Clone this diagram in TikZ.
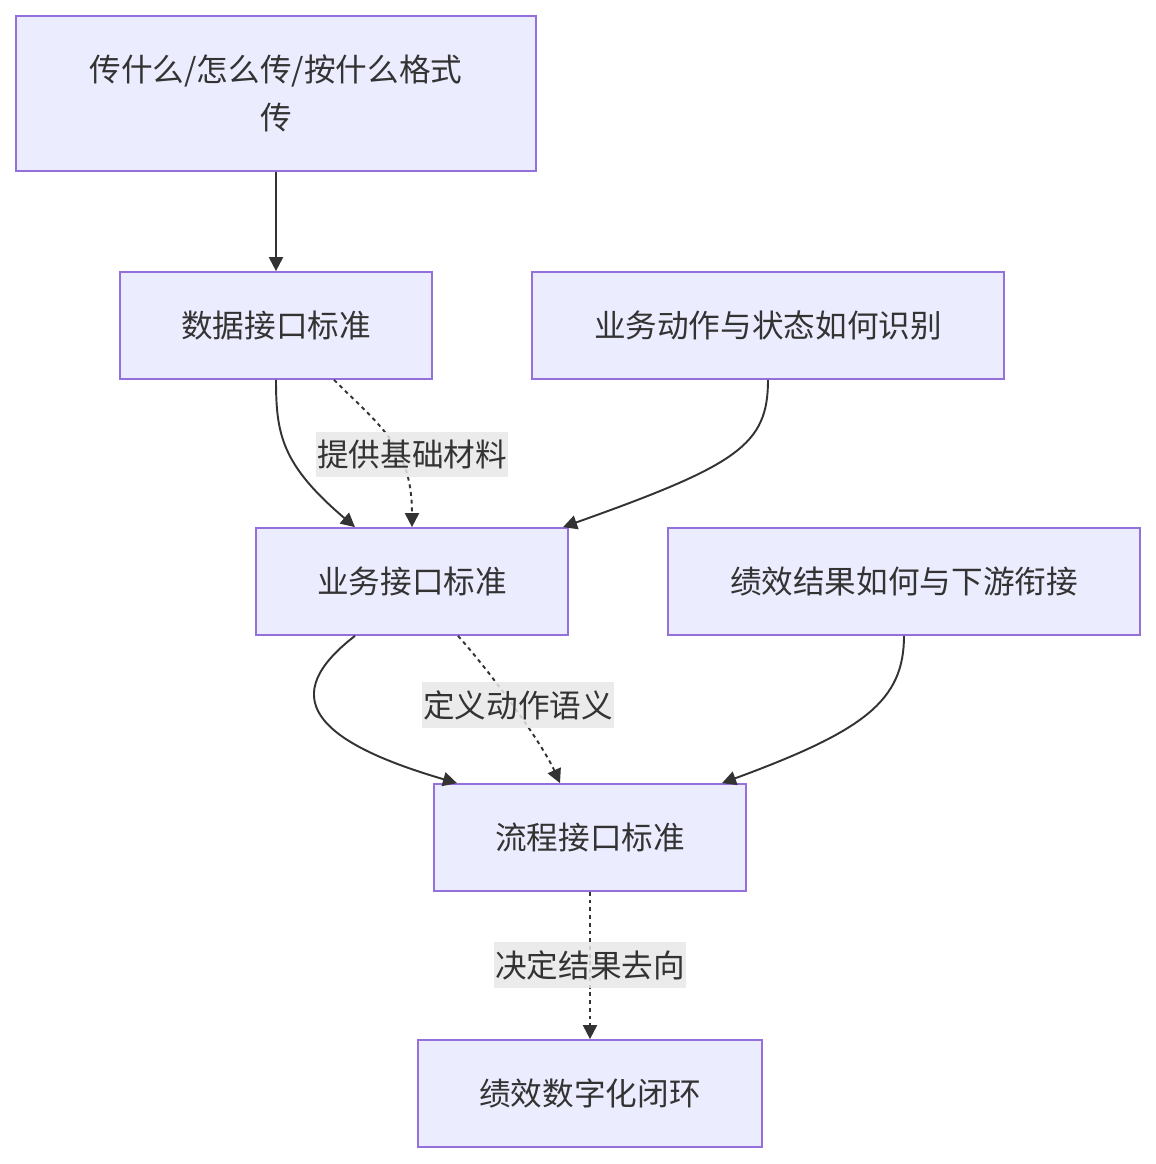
\documentclass[tikz,border=0pt]{standalone}
\usepackage{fontspec}
\setmainfont{Noto Sans CJK SC}
\usepackage{xcolor}
\usetikzlibrary{arrows.meta,positioning,calc}
\definecolor{boxfill}{HTML}{ECECFF}
\definecolor{boxline}{HTML}{9370DB}
\definecolor{ink}{HTML}{333333}
\definecolor{lblbg}{HTML}{E8E8E8}

\begin{document}
\begin{tikzpicture}[
  x=0.02cm, y=-0.02cm,
  font=\fontsize{18}{27}\selectfont,
  box/.style={draw=boxline,fill=boxfill,line width=1pt,text=ink,minimum height=2.14cm,inner sep=0pt,align=center},
  flow/.style={-{Triangle[length=8pt,width=8pt]},line width=1.1pt,ink},
  dflow/.style={flow,dash pattern=on 2.2pt off 2.2pt},
  lbl/.style={fill=lblbg,fill opacity=0.85,text opacity=1,text=ink,inner sep=0pt,minimum height=1.3cm*0.7,minimum width=3.84cm}
]
\useasboundingbox (0,0) rectangle (1156,1164);

\node[box,minimum width=10.4cm,minimum height=3.1cm] (top) at (276,93.5) {传什么/怎么传/按什么格式\\传};
\node[box,minimum width=6.24cm] (sjjk) at (276,325.5) {数据接口标准};
\node[box,minimum width=9.44cm] (dzzt) at (768,325.5) {业务动作与状态如何识别};
\node[box,minimum width=6.24cm] (ywjk) at (412,581.5) {业务接口标准};
\node[box,minimum width=9.44cm] (jxjg) at (904,581.5) {绩效结果如何与下游衔接};
\node[box,minimum width=6.24cm] (lcjk) at (590,837.5) {流程接口标准};
\node[box,minimum width=6.88cm] (bihuan) at (590,1093.5) {绩效数字化闭环};

% edges
\draw[flow] (top) -- (sjjk);
\draw[flow] (sjjk.south) .. controls ($(sjjk.south)+(0,55)$) and ($(sjjk.south)+(6,85)$) .. ($(ywjk.north)+(-57,0)$);
\draw[dflow] ($(sjjk.south)+(58,0)$) .. controls ($(sjjk.south)+(104,46)$) and ($(ywjk.north)+(0,-80)$) .. (ywjk.north);
\draw[flow] (dzzt.south) .. controls ($(dzzt.south)+(0,65)$) and ($(dzzt.south)+(-30,85)$) .. ($(ywjk.north)+(151,0)$);
\draw[flow] ($(ywjk.south)+(-57,0)$) .. controls ($(ywjk.south)+(-135,60)$) and ($(ywjk.south)+(-100,105)$) .. ($(lcjk.north)+(-133,0)$);
\draw[dflow] ($(ywjk.south)+(46,0)$) .. controls ($(ywjk.south)+(80,38)$) and ($(lcjk.north)+(-48,-40)$) .. ($(lcjk.north)+(-30,0)$);
\draw[flow] (jxjg.south) .. controls ($(jxjg.south)+(0,65)$) and ($(jxjg.south)+(-40,95)$) .. ($(lcjk.north)+(132,0)$);
\draw[dflow] (lcjk) -- (bihuan);

% labels
\node[lbl] (l1) at (412,454.5) {提供基础材料};
\node[lbl] (l2) at (518,705) {定义动作语义};
\node[lbl] (l3) at (590,965) {决定结果去向};
\end{tikzpicture}
\end{document}
